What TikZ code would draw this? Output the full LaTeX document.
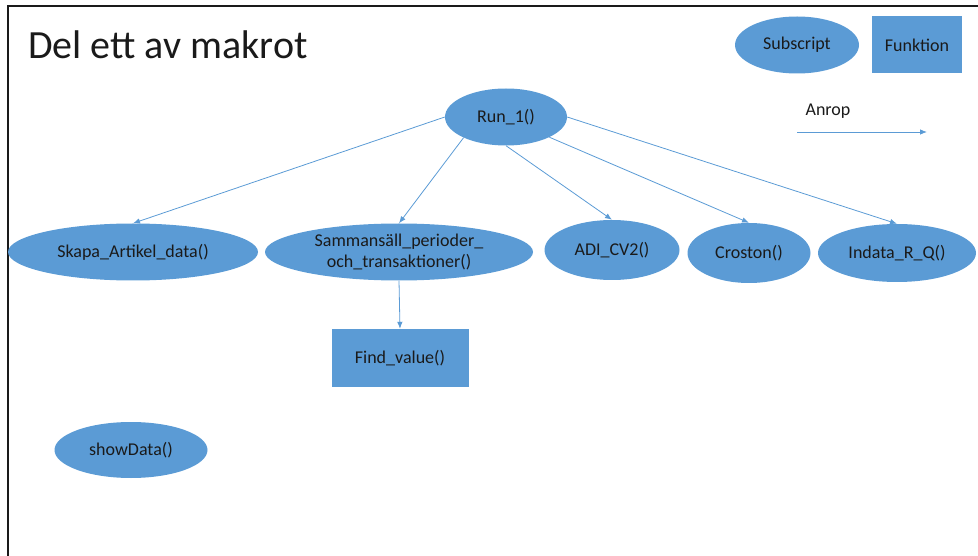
\documentclass[tikz,border=0pt]{standalone}
\usepackage{fontspec}
\setmainfont{Carlito}
\usetikzlibrary{arrows.meta,shapes.geometric}
\definecolor{MakBlue}{HTML}{5B9BD5}
\definecolor{MakInk}{HTML}{1A1A1A}

\begin{document}
\begin{tikzpicture}[
      x=1pt,y=-1pt,
      >={Latex[length=7pt,width=5.5pt]},
      proc/.style={ellipse,fill=MakBlue,inner sep=0pt,text=MakInk,
        font=\fontsize{18}{21}\selectfont,align=center},
      func/.style={rectangle,fill=MakBlue,inner sep=0pt,text=MakInk,
        font=\fontsize{18}{21}\selectfont},
      call/.style={->,draw=MakBlue,line width=0.8pt}
    ]
    \path[use as bounding box] (0,0) rectangle (978,556);
    \draw[line width=2pt,draw=MakInk] (8,556) -- (8,6) -- (978,6);
    \node[font=\fontsize{40}{48}\selectfont,text=MakInk,anchor=base west,inner sep=0pt]
      (title) at (28,59) {Del ett av makrot};

    % legend
    \node[proc,minimum width=124pt,minimum height=57pt] (legsub) at (797,45) {Subscript};
    \node[func,minimum width=90pt,minimum height=57pt] (legfun) at (917,45) {Funktion};
    \node[font=\fontsize{18}{21}\selectfont,text=MakInk] (legcall) at (828,111) {Anrop};
    \coordinate (legA) at (797,132);
    \coordinate (legB) at (927,132);
    \draw[call] (legA) -- (legB);

    % macro nodes
    \node[proc,minimum width=122pt,minimum height=57pt] (run) at (506,117) {Run\_1()};
    \node[proc,minimum width=250pt,minimum height=57pt] (skapa) at (133,252) {Skapa\_Artikel\_data()};
    \node[proc,minimum width=268pt,minimum height=57pt] (samm) at (399,252)
      {Sammansäll\_perioder\_\\och\_transaktioner()};
    \node[proc,minimum width=135pt,minimum height=60pt] (adi) at (612,250) {ADI\_CV2()};
    \node[proc,minimum width=123pt,minimum height=60pt] (croston) at (749,253) {Croston()};
    \node[proc,minimum width=158pt,minimum height=58pt] (indata) at (897,253) {Indata\_R\_Q()};
    \node[func,minimum width=137pt,minimum height=58pt] (find) at (400,358) {Find\_value()};
    \node[proc,minimum width=153pt,minimum height=56pt] (show) at (131,450) {showData()};

    % calls
    \draw[call] (run.west) -- (skapa.north);
    \draw[call] (run.206) -- (samm.north);
    \draw[call] (run.south) -- (adi.north);
    \draw[call] (run.335) -- (croston.north);
    \draw[call] (run.east) -- (indata.north);
    \draw[call] (samm.south) -- (find.north);
  \end{tikzpicture}
\end{document}
